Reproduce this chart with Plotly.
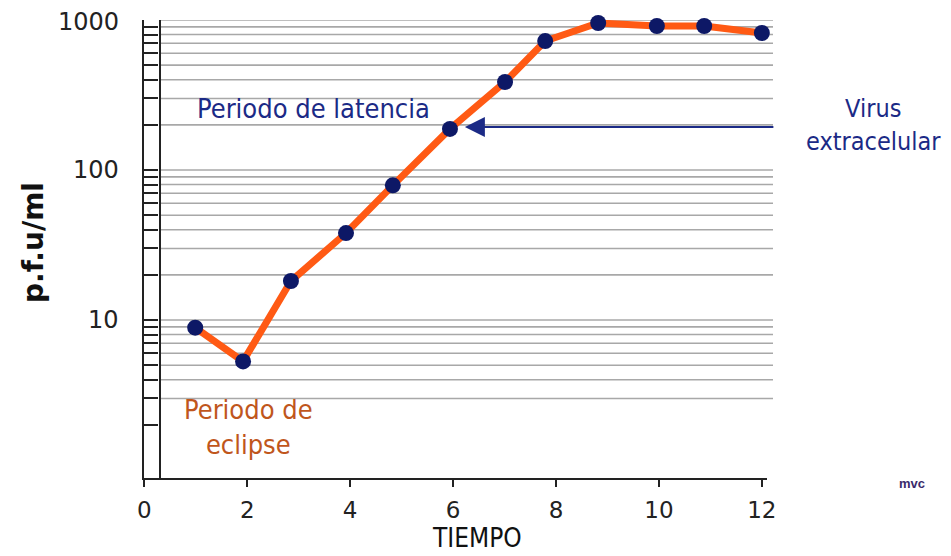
import plotly.graph_objects as go

# ---- data ----
tiempo = [0.99, 1.92, 2.85, 3.92, 4.83, 5.94, 7.01, 7.79, 8.82, 9.96, 10.88, 12.0]
pfu = [8.9, 5.3, 18.2, 38, 79, 188, 386, 724, 955, 912, 912, 819]
x_ticks = [0, 2, 4, 6, 8, 10, 12]
y_tick_vals = [2, 3, 4, 5, 6, 7, 8, 9,
               10, 20, 30, 40, 50, 60, 70, 80, 90,
               100, 200, 300, 400, 500, 600, 700, 800, 900, 1000]
y_label_vals = [10, 100, 1000]
y_label_text = ["10", "100", "1000"]
grid_vals = [3, 4, 5, 6, 7, 8, 9,
             10, 20, 30, 40, 50, 60, 70, 80, 90,
             100, 200, 300, 400, 500, 600, 700, 800, 900, 1000]
arrow_target = (6.23, 193.6)

# ---- layout geometry (screen pixels; the page body adds an 8px offset) ----
OFF = 8
W, H = 951, 556
PL, PT, PW, PH = 144, 20, 623, 458          # plot area as seen on screen
L, T = PL - OFF, PT - OFF
R, B = W - L - PW, H - T - PH


def px(xs):
    return (xs - PL) / PW


def py(ys):
    return (PT + PH - ys) / PH


NAVY = "#1b2a86"
ORANGE_TXT = "#c0561c"
AX = "#222222"
FONT = "DejaVu Sans, Verdana, sans-serif"
COND = "DejaVu Sans Condensed, DejaVu Sans, sans-serif"

fig = go.Figure()
fig.add_trace(go.Scatter(
    x=tiempo, y=pfu, mode="lines+markers",
    line=dict(color="#ff5a14", width=7),
    marker=dict(color="#0d1866", size=16),
    hoverinfo="skip", showlegend=False, cliponaxis=False,
))

shapes = []
for g in grid_vals:
    shapes.append(dict(type="line", xref="paper", yref="y",
                       x0=px(160), x1=px(773), y0=g, y1=g,
                       line=dict(color="#a8a8a8", width=1.6), layer="below"))
shapes.append(dict(type="line", xref="paper", yref="paper",
                   x0=px(160), x1=px(160), y0=0, y1=1,
                   line=dict(color=AX, width=2)))


def txt(x, y, text, size, color, family=COND, **kw):
    return dict(x=px(x), y=py(y), xref="paper", yref="paper", text=text,
                showarrow=False, xanchor="center", yanchor="middle",
                font=dict(family=family, size=size, color=color), **kw)


annotations = [
    dict(x=arrow_target[0], y=2.287, xref="x", yref="y",
         ax=310, ay=0, axref="pixel", ayref="pixel", text="", showarrow=True,
         arrowhead=2, arrowsize=2, arrowwidth=2, arrowcolor=NAVY, standoff=0),
    txt(313, 109, "Periodo de latencia", 27, NAVY),
    txt(873, 125, "Virus<br>extracelular", 25, NAVY),
    txt(248, 427, "Periodo de<br>eclipse", 27, ORANGE_TXT),
    txt(912, 483, "<b>mvc</b>", 13, "#3a2a6a", family="Liberation Sans, Arial, sans-serif"),
    txt(477, 538, "TIEMPO", 26, "#111111"),
    txt(33, 243, "<b>p.f.u/ml</b>", 28, "#111111", family=FONT, textangle=-90),
]
label_pos = {10: 320, 100: 170, 1000: 22}
for v, t in zip(y_label_vals, y_label_text):
    annotations.append(txt(121, label_pos[v], t, 24, "#222222", family=FONT))
    annotations[-1]["xanchor"] = "right"

fig.update_layout(
    width=W, height=H,
    margin=dict(l=L, r=R, t=T, b=B, autoexpand=False),
    paper_bgcolor="white", plot_bgcolor="white",
    shapes=shapes, annotations=annotations,
    xaxis=dict(range=[-0.005, 12.1], tickvals=x_ticks, ticktext=[str(v) for v in x_ticks],
               showgrid=False, zeroline=False, showline=True, linecolor=AX, linewidth=2,
               ticks="outside", ticklen=7, tickwidth=2, tickcolor=AX,
               tickfont=dict(family=FONT, size=23, color="#222222"), ticklabelstandoff=3),
    yaxis=dict(type="log", range=[-0.053, 3], tickvals=y_tick_vals,
               showticklabels=False,
               showgrid=False, zeroline=False, showline=True, linecolor=AX, linewidth=2,
               ticks="inside", ticklen=14, tickwidth=2, tickcolor=AX),
)

fig.write_html("out.html")
